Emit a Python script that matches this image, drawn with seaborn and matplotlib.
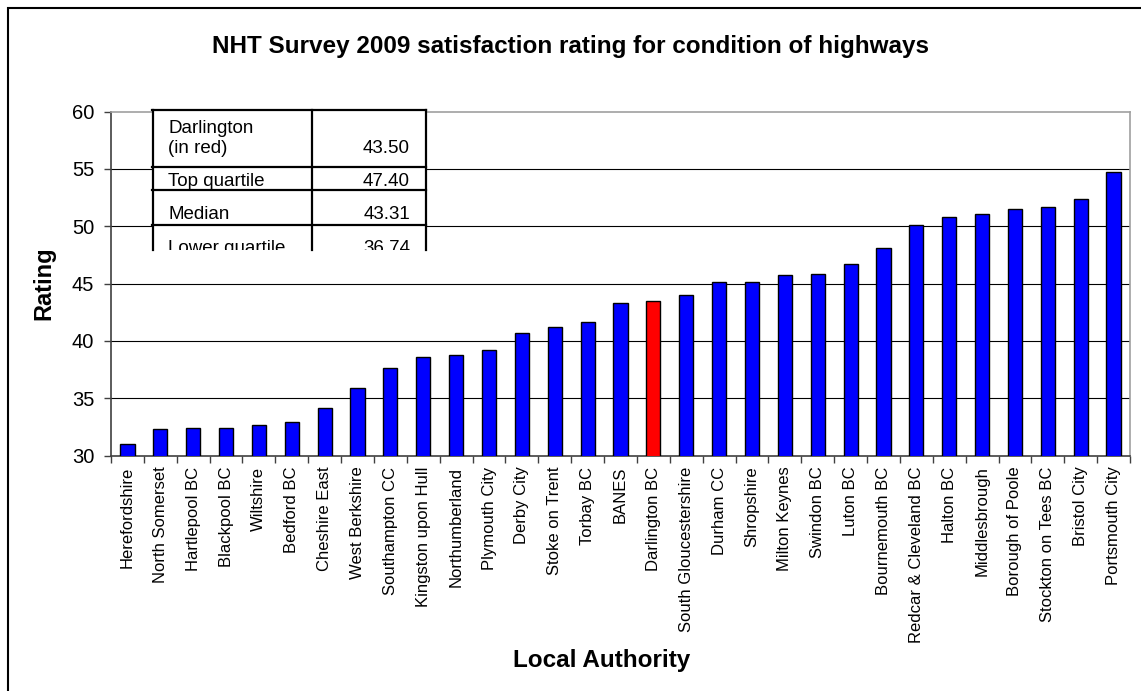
import matplotlib
matplotlib.use("Agg")
import matplotlib.pyplot as plt
import seaborn as sns
from matplotlib.patches import Rectangle

authorities = ["Herefordshire", "North Somerset", "Hartlepool BC", "Blackpool BC", "Wiltshire",
               "Bedford BC", "Cheshire East", "West Berkshire", "Southampton CC", "Kingston upon Hull",
               "Northumberland", "Plymouth City", "Derby City", "Stoke on Trent", "Torbay BC",
               "BANES", "Darlington BC", "South Gloucestershire", "Durham CC", "Shropshire",
               "Milton Keynes", "Swindon BC", "Luton BC", "Bournemouth BC", "Redcar & Cleveland BC",
               "Halton BC", "Middlesbrough", "Borough of Poole", "Stockton on Tees BC", "Bristol City",
               "Portsmouth City"]
ratings = [31.0, 32.3, 32.4, 32.4, 32.7, 32.9, 34.1, 35.9, 37.6, 38.6,
           38.8, 39.2, 40.7, 41.2, 41.6, 43.3, 43.5, 44.0, 45.1, 45.1,
           45.7, 45.8, 46.7, 48.1, 50.1, 50.8, 51.1, 51.5, 51.7, 52.4,
           54.7]
highlight = "Darlington BC"

table_labels = ["Darlington\n(in red)", "Top quartile", "Median", "Lower quartile"]
table_values = ["43.50", "47.40", "43.31", "36.74"]

W, H = 1141, 691
fig = plt.figure(figsize=(W / 100, H / 100), dpi=100)
plt.rcParams['font.family'] = ['Liberation Sans', 'DejaVu Sans']

def fx(px):
    return px / W

def fy(py):
    return 1 - py / H

ax = fig.add_axes([fx(111), fy(455.5), fx(1130) - fx(111), fy(111.5) - fy(455.5)])
colors = ["#FF0000" if a == highlight else "#0000FF" for a in authorities]
sns.barplot(x=authorities, y=ratings, hue=authorities, palette=colors, legend=False,
            saturation=1, width=0.43, edgecolor="black", linewidth=1, ax=ax, zorder=3)

ax.set_ylim(30, 60)
ax.set_xlim(-0.5, len(authorities) - 0.5)
ax.set_yticks(range(30, 61, 5))
ax.tick_params(axis="y", labelsize=14.5, length=5, width=1, color="#404040", pad=7)
for v in range(35, 60, 5):
    ax.axhline(v, color="black", lw=0.8, zorder=1)

ax.set_xticks(range(len(authorities)))
ax.set_xticklabels(authorities, rotation=90, fontsize=12)
ax.tick_params(axis="x", length=0, pad=8)
ax.set_xticks([i - 0.5 for i in range(len(authorities) + 1)], minor=True)
ax.tick_params(axis="x", which="minor", length=5, width=1, color="#404040")
ax.set_xlabel("")
ax.set_ylabel("")

for s in ["top", "right"]:
    ax.spines[s].set_color("#A0A0A0")
    ax.spines[s].set_linewidth(1.2)
for s in ["left", "bottom"]:
    ax.spines[s].set_color("#404040")
    ax.spines[s].set_linewidth(1.2)

fig.text(fx(571), fy(46), "NHT Survey 2009 satisfaction rating for condition of highways",
         ha="center", va="center", fontsize=17.5, fontweight="bold")
fig.text(fx(44), fy(283), "Rating", ha="center", va="center", rotation=90,
         fontsize=17, fontweight="bold")
fig.text(fx(602), fy(660), "Local Authority", ha="center", va="center",
         fontsize=17.5, fontweight="bold")

# summary table box
tx0, tx1, ty0, ty1 = 152, 426, 110, 250
tab = fig.add_axes([fx(tx0), fy(ty1), fx(tx1) - fx(tx0), fy(ty0) - fy(ty1)])
tab.set_xlim(tx0, tx1)
tab.set_ylim(ty1, ty0)
tab.set_facecolor("white")
tab.set_xticks([])
tab.set_yticks([])
for s in tab.spines.values():
    s.set_visible(False)
tab.set_zorder(5)
mid = 312
rows = [110, 166.5, 190, 224.5]
baselines = [153, 186, 219, 253]
for y in rows:
    tab.plot([tx0, tx1], [y, y], color="black", lw=1.6, clip_on=False)
for x in [tx0 + 0.5, mid, tx1 - 0.5]:
    tab.plot([x, x], [ty0, ty1], color="black", lw=1.6, clip_on=False)
for lab, val, base in zip(table_labels, table_values, baselines):
    tab.text(168, base, lab, ha="left", va="baseline", fontsize=13.5,
             linespacing=1.2, clip_on=True)
    tab.text(410, base, val, ha="right", va="baseline", fontsize=13.5, clip_on=True)

# outer chart border (right edge falls outside the image)
fig.add_artist(Rectangle((fx(8), fy(700)), fx(1160) - fx(8), fy(8) - fy(700),
                         transform=fig.transFigure, fill=False, edgecolor="black", lw=1.5))

fig.savefig("out.png", dpi=100)
